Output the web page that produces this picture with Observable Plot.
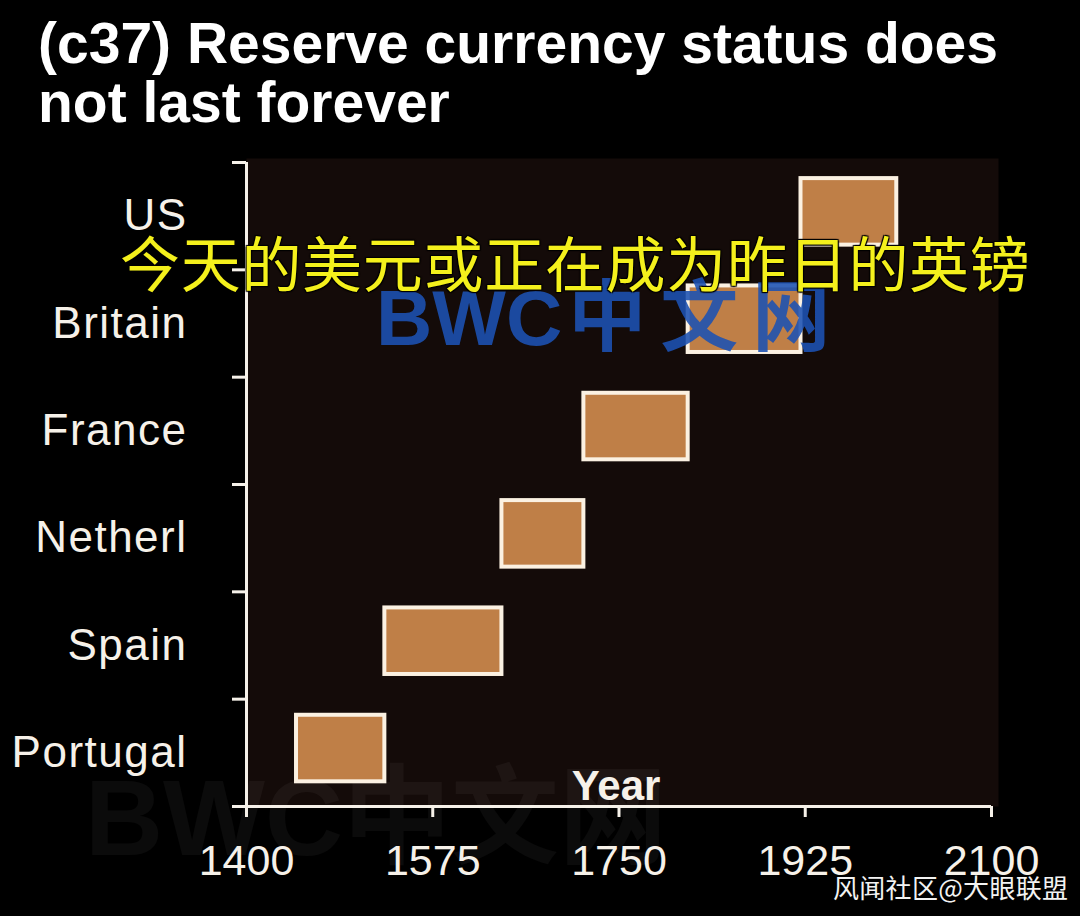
<!DOCTYPE html>
<html><head><meta charset="utf-8">
<script src="https://cdn.jsdelivr.net/npm/d3@7"></script>
<script src="https://cdn.jsdelivr.net/npm/@observablehq/plot@0.6"></script>
<style>
html,body{margin:0;padding:0;background:#000;}
#wrap{position:relative;width:1080px;height:916px;overflow:hidden;background:#000;}
#title{height:150px;box-sizing:border-box;padding:14px 0 0 38px;color:#fff;font-family:"Liberation Sans",Arial,sans-serif;font-weight:bold;font-size:57px;line-height:59px;white-space:nowrap;}
#chart svg{display:block;}
g[aria-label="y-axis tick label"] text{letter-spacing:1.5px;}
.ov{position:absolute;white-space:nowrap;line-height:1;}
#sub{left:120px;top:231px;font-family:"Noto Sans CJK SC",sans-serif;font-size:60px;letter-spacing:0.7px;color:#f4f01c;
  text-shadow:1px 1px 1px #000,-1px -1px 1px #000,1px -1px 1px #000,-1px 1px 1px #000;}
#wm{left:376px;top:272px;font-family:"Liberation Sans",Arial,"Noto Sans CJK SC",sans-serif;font-weight:bold;font-size:78px;color:#1c52b4;opacity:0.88;}
#wm .cjk{font-family:"Noto Sans CJK SC",sans-serif;font-weight:bold;letter-spacing:14px;margin-left:6px;}
#wm2{left:85px;top:764px;font-family:"Liberation Sans",Arial,"Noto Sans CJK SC",sans-serif;font-weight:bold;font-size:108px;color:rgba(255,255,255,0.045);}
#src{left:833px;top:874px;font-family:"Noto Sans CJK SC",sans-serif;font-size:26px;letter-spacing:0.3px;color:#f2f2f2;}
</style>
</head><body>
<div id="wrap">
  <div id="title"></div>
  <div id="chart"></div>
  <div class="ov" id="wm2"></div>
  <div class="ov" id="wm"><span id="wmLat"></span><span class="cjk" id="wmCjk"></span></div>
  <div class="ov" id="sub"></div>
  <div class="ov" id="src"></div>
</div>
<script>
// ---- data ----
const titleLines = ["(c37) Reserve currency status does", "not last forever"];
const countries = ["Portugal", "Spain", "Netherl", "France", "Britain", "US"];
const startYears = [1447, 1530, 1640, 1717, 1815, 1921];
const endYears   = [1530, 1640, 1717, 1815, 1921, 2011];
const xTicks = [1400, 1575, 1750, 1925, 2100];
const axisTitle = "Year";
const subtitleText = "今天的美元或正在成为昨日的英镑";
const watermarkLatin = "BWC";
const watermarkCjk = "中文网";
const sourceText = "风闻社区@大眼联盟";

// ---- page text ----
document.getElementById("title").innerHTML = titleLines.join("<br>");
document.getElementById("sub").textContent = subtitleText;
document.getElementById("wmLat").textContent = watermarkLatin;
document.getElementById("wmCjk").textContent = watermarkCjk;
document.getElementById("wm2").textContent = watermarkLatin + watermarkCjk;
document.getElementById("src").textContent = sourceText;

// ---- chart ----
const data = countries.map((c, i) => ({country: c, idx: i, start: startYears[i], end: endYears[i]}));
const fg = "#f6f1e9";
const font = '"Liberation Sans", Arial, sans-serif';

const chart = Plot.plot({
  width: 1080, height: 766,
  marginTop: 12, marginBottom: 110, marginLeft: 246, marginRight: 89,
  style: {background: "transparent", color: fg, fontFamily: font, overflow: "visible"},
  x: {domain: [xTicks[0], xTicks[xTicks.length - 1]]},
  y: {domain: [0, countries.length]},
  marks: [
    Plot.frame({fill: "#140b09", stroke: null, insetTop: -4, insetRight: -7}),
    Plot.rect(data, {x1: "start", x2: "end", y1: d => d.idx + 0.23, y2: d => d.idx + 0.85,
      fill: "#bf7f47", stroke: "#fbf1e2", strokeWidth: 4}),
    Plot.ruleX([xTicks[0]], {stroke: fg, strokeWidth: 3}),
    Plot.ruleY([0], {stroke: fg, strokeWidth: 3}),
    Plot.axisX({ticks: xTicks, tickFormat: d => String(d), tickSize: 11, tickPadding: 27,
      strokeWidth: 3, fontSize: 43, color: fg, label: null}),
    Plot.axisY({ticks: d3.range(countries.length + 1), tickSize: 14, tickFormat: () => "",
      strokeWidth: 3, color: fg, label: null}),
    Plot.axisY({ticks: countries.map((c, i) => i + 0.5), tickSize: 0, tickPadding: 59,
      tickFormat: d => countries[Math.floor(d)], fontSize: 44, color: fg, label: null}),
    Plot.text([axisTitle], {frameAnchor: "bottom", text: d => d, dx: -3, dy: -7, lineAnchor: "bottom",
      fontSize: 42, fontWeight: "bold", fill: fg})
  ]
});
document.getElementById("chart").appendChild(chart);
</script>
</body></html>
